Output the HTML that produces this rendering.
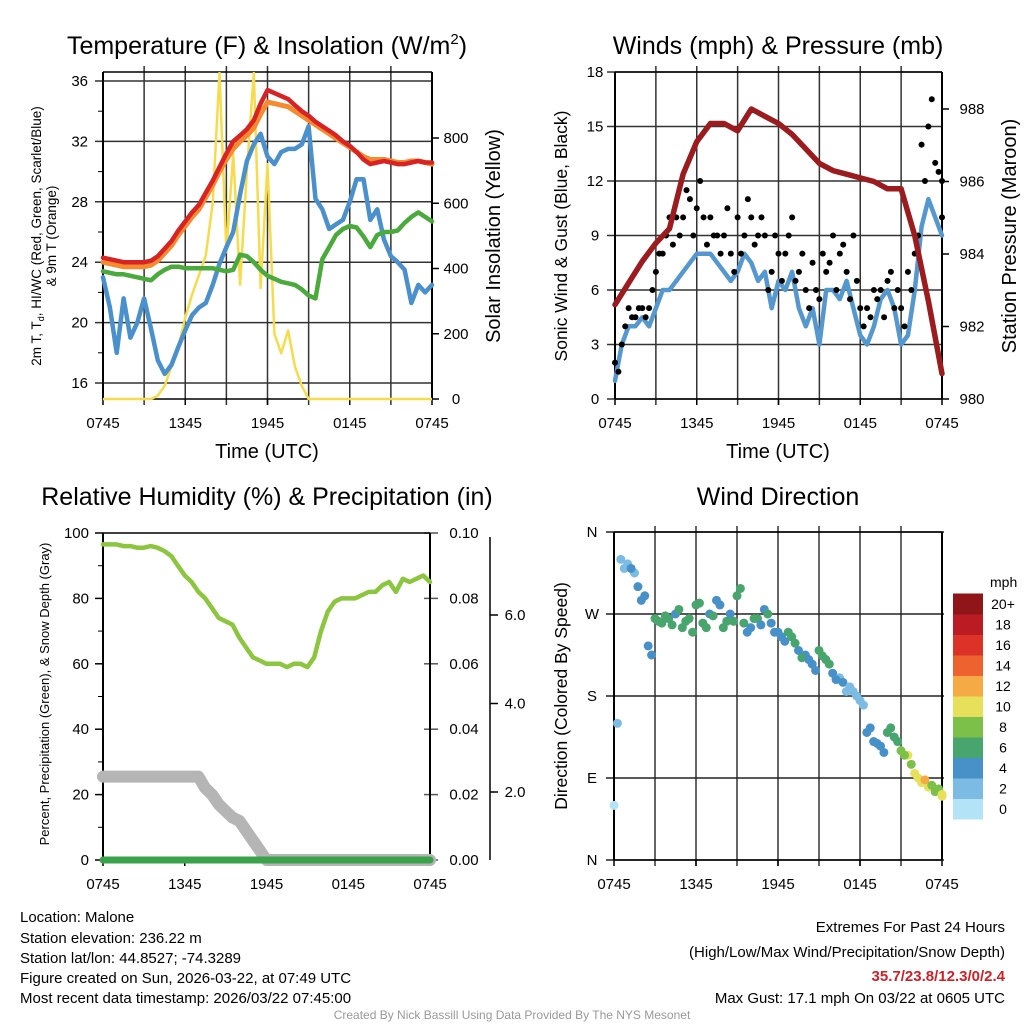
<!DOCTYPE html>
<html><head><meta charset="utf-8"><style>
html,body{margin:0;padding:0;background:#fff}
svg{display:block;font-family:"Liberation Sans",Arial,sans-serif}
</style></head><body>
<svg id="s" width="1024" height="1024" viewBox="0 0 1024 1024" xmlns="http://www.w3.org/2000/svg">
<text x="267" y="54" font-size="25" text-anchor="middle">Temperature (F) &amp; Insolation (W/m<tspan font-size="15" dy="-10">2</tspan><tspan dy="10">)</tspan></text>
<text x="778" y="54" font-size="25" text-anchor="middle">Winds (mph) &amp; Pressure (mb)</text>
<text x="267" y="505" font-size="25" text-anchor="middle">Relative Humidity (%) &amp; Precipitation (in)</text>
<text x="778" y="505" font-size="25" text-anchor="middle">Wind Direction</text>
<text x="267" y="458" font-size="20" text-anchor="middle">Time (UTC)</text>
<text x="778" y="458" font-size="20" text-anchor="middle">Time (UTC)</text>
<text transform="translate(41,236) rotate(-90)" font-size="13.5" text-anchor="middle"><tspan x="0" dy="0">2m T, T<tspan font-size="9" dy="3">d</tspan><tspan dy="-3">, HI/WC (Red, Green, Scarlet/Blue)</tspan></tspan><tspan x="0" dy="15">&amp; 9m T (Orange)</tspan></text>
<text transform="translate(500,236) rotate(-90)" font-size="20" text-anchor="middle">Solar Insolation (Yellow)</text>
<text transform="translate(567,236) rotate(-90)" font-size="17.5" text-anchor="middle">Sonic Wind &amp; Gust (Blue, Black)</text>
<text transform="translate(1016,236) rotate(-90)" font-size="20" text-anchor="middle">Station Pressure (Maroon)</text>
<text transform="translate(49,694) rotate(-90)" font-size="13" text-anchor="middle">Percent, Precipitation (Green), &amp; Snow Depth (Gray)</text>
<text transform="translate(567,696) rotate(-90)" font-size="17.5" text-anchor="middle">Direction (Colored By Speed)</text>
<text x="990" y="587" font-size="14">mph</text>
<g font-size="15">
<text x="20" y="922">Location: Malone</text>
<text x="20" y="943">Station elevation: 236.22 m</text>
<text x="20" y="963">Station lat/lon: 44.8527; -74.3289</text>
<text x="20" y="983">Figure created on Sun, 2026-03-22, at 07:49 UTC</text>
<text x="20" y="1003">Most recent data timestamp: 2026/03/22 07:45:00</text>
</g>
<g font-size="15" text-anchor="end">
<text x="1005" y="932">Extremes For Past 24 Hours</text>
<text x="1005" y="957">(High/Low/Max Wind/Precipitation/Snow Depth)</text>
<text x="1005" y="981" fill="#d21f26" font-weight="bold">35.7/23.8/12.3/0/2.4</text>
<text x="1005" y="1003">Max Gust: 17.1 mph On 03/22 at 0605 UTC</text>
</g>
<text x="512" y="1019" font-size="12" fill="#999" text-anchor="middle">Created By Nick Bassill Using Data Provided By The NYS Mesonet</text>
</svg>
<script>
// ---- data (half-hourly samples from 0745 UTC, 49 points) ----
const timeLabels=["0745","1345","1945","0145","0745"];
const tempTicks=[16,20,24,28,32,36];
const solarTicks=[0,200,400,600,800];
const windTicks=[0,3,6,9,12,15,18];
const presTicks=[980,982,984,986,988];
const rhTicks=[0,20,40,60,80,100];
const precipTicks=["0.00","0.02","0.04","0.06","0.08","0.10"];
const snowTicks=["2.0","4.0","6.0"];
const dirLabels=["N","E","S","W","N"];
const speedBins=["0","2","4","6","8","10","12","14","16","18","20+"];
const temp2m=[24.3,24.2,24.1,24,24,24,24,24.1,24.4,24.9,25.4,26.1,26.7,27.3,27.8,28.6,29.4,30.3,31.2,32,32.4,32.8,33.4,34.5,35.4,35.2,35,34.8,34.4,34,33.7,33.3,33,32.7,32.4,32,31.7,31.3,30.8,30.5,30.6,30.7,30.6,30.5,30.5,30.6,30.7,30.6,30.6];
const temp9m=[24,23.9,23.8,23.7,23.7,23.7,23.7,23.8,24.1,24.6,25.1,25.8,26.4,27,27.5,28.3,29.1,30,30.8,31.5,32,32.4,32.9,33.8,34.6,34.5,34.4,34.3,34,33.7,33.4,33.1,32.8,32.5,32.2,31.9,31.6,31.3,31,30.8,30.8,30.8,30.7,30.6,30.6,30.7,30.7,30.6,30.5];
const dewpt=[23.4,23.3,23.2,23.2,23.1,23,22.9,22.8,23.2,23.5,23.7,23.7,23.6,23.6,23.6,23.6,23.6,23.5,23.4,23.5,24.5,24.4,24,23.5,23.1,22.9,22.7,22.6,22.5,22.2,21.8,21.6,24.2,25,25.8,26.2,26.4,26.3,25.7,25,25.8,26,26,26.1,26.6,27,27.3,27,26.7];
const windChill=[23,21,18,21.6,19,20,21.6,19.6,17.5,16.6,17.2,18.4,19.5,20.5,21,21.3,22.5,23.9,25,26,28.5,30.7,31.8,32.5,31,30.5,31.3,31.5,31.5,31.8,33,28.2,27.5,26.2,26.5,26.8,28,29.5,29.5,26.8,27.5,25.5,24.4,24,23.5,21.3,22.5,22,22.5];
const solar=[0,0,0,0,0,0,0,0,10,40,100,160,250,320,380,440,600,1000,450,750,350,700,1000,340,720,200,140,210,100,40,0,0,0,0,0,0,0,0,0,0,0,0,0,0,0,0,0,0,0];
const sonic=[1,3,4,4,4.5,4,5,6,6,6.5,7,7.5,8,8,8,7.5,7,6.5,7,8,7.5,6.5,7,5,6.5,6,7,5,4,5,3,6,6,5.5,6.5,5,3.5,3,4,5.5,6,5,3,3.5,6,9.5,11,10,9];
const gust=[2,3,5,4.5,5,5,7,8,10,10,10,11,10.5,10,10,9,9,8,10,9,10,9,9,7,8,8,10,7,6,7.5,5.5,7,9,8,7,9,5,5,6,6,6.5,5,5,7,8,14,15,13,12];
const gust2=[1.5,4,4.5,5,4.5,6,8,9,8.5,9,11.5,9,12,8.5,9,8,10.5,7,8,11,8.5,10,6,9,6.5,9,6.5,8,5,6,8,7.5,6,8.5,5.5,6.5,4,4.5,5.5,4.5,7,6,4,6,9,12,16.5,12.5,10];
const pressure=[982.6,983.2,983.8,984.3,984.7,986.2,987.1,987.6,987.6,987.4,988,987.8,987.6,987.3,986.9,986.5,986.3,986.2,986.1,986,985.8,985.8,984.5,982.7,980.7];
const rh=[96.5,96.5,96.5,96,96,95.5,95.5,96,95.5,94.5,93,90,87,85,82,80,77,74,73,72,68,65,62,61,60,60,60,59,60,60,59,62,70,76,79,80,80,80,81,82,82,84,85,82,86,85,86,87,85];
const precip=[0,0,0,0,0,0,0,0,0,0,0,0,0,0,0,0,0,0,0,0,0,0,0,0,0,0,0,0,0,0,0,0,0,0,0,0,0,0,0,0,0,0,0,0,0,0,0,0,0];
const snowPct=[25.5,25.5,25.5,25.5,25.5,25.5,25.5,25.5,25.5,25.5,25.5,25.5,25.5,25.5,25.5,22,20,17,15,13,12,9,6,3,0,0,0,0,0,0,0,0,0,0,0,0,0,0,0,0,0,0,0,0,0,0,0,0,0];
const dirDeg=[60,330,325,315,285,235,265,260,265,270,255,265,280,260,270,285,255,270,290,260,255,265,275,260,250,240,245,230,225,215,230,220,205,200,185,185,175,140,130,125,140,135,120,115,95,85,80,75,70];
const dirSpd=[1,2,3,3,4,4,6,6,6,5,6,6,7,6,5,4,6,5,6,6,5,6,5,4,4,5,6,5,4,4,6,6,4,3,3,3,3,4,4,5,6,7,9,10,10,11,10,9,10];
const dirDeg2=[150,320,320,300,290,225,262,268,258,275,262,250,282,255,268,280,262,262,298,250,265,258,270,250,245,250,238,222,220,208,224,215,198,195,190,180,170,145,128,118,145,130,115,105,90,88,82,78,72];
const dirSpd2=[2,2,4,4,4,4,6,7,6,6,7,6,7,6,6,4,6,6,6,4,6,4,6,4,5,6,6,6,4,4,6,6,4,4,3,2,3,4,4,4,6,7,8,8,10,13,9,9,10];
const binColors=["#b3e3f7","#7cbbe4","#4890c8","#48a56e","#7cc04a","#e6e05a","#f5aa45","#ee6230","#dc3228","#bb1c24","#8f1518"];

const S=document.getElementById('s');const NS='http://www.w3.org/2000/svg';
function mk(tag,parent){const e=document.createElementNS(NS,tag);(parent||S).appendChild(e);return e;}
function setA(e,o){for(const k in o)e.setAttribute(k,o[k]);}
function sc(d0,d1,p0,p1){return v=>p0+(v-d0)*(p1-p0)/(d1-d0);}

function line(x1,y1,x2,y2,c,w,name){const e=mk('line');setA(e,{x1,y1,x2,y2,stroke:c,'stroke-width':w});

return e;}
function txt(x,y,s,anchor,size,name){const e=mk('text');setA(e,{x,y,'text-anchor':anchor,'font-size':size});e.textContent=s;

return e;}
function poly(vals,xs,ys,step,c,w,name){const pts=vals.map((v,i)=>xs(i*step).toFixed(1)+','+ys(v).toFixed(1)).join(' ');
const e=mk('polyline');setA(e,{points:pts,fill:'none',stroke:c,'stroke-width':w,'stroke-linejoin':'round','stroke-linecap':'round'});

return e;}

function frame(x0,x1,y0,y1,vgrid,name){
  const xs=sc(0,24,x0,x1);
  if(vgrid){for(let h=3;h<24;h+=3){line(xs(h),y0-6,xs(h),y1+6,'#333',1.5,name+'-vgrid');}}
  for(let i=0;i<5;i++){line(xs(i*6),y1,xs(i*6),y1+6,'#000',1.5,name+'-xtick');
    txt(xs(i*6),y1+29,timeLabels[i],'middle',15,name+'-xlabel');}
  return xs;
}
function box(x0,x1,y0,y1,name){line(x0,y0,x0,y1,'#000',2,name+'-left-axis');line(x1,y0,x1,y1,'#000',2,name+'-right-axis');
  line(x0,y0,x1,y0,'#000',1.5,name+'-top');line(x0,y1,x1,y1,'#000',1.5,name+'-bottom');}

// ---- Panel 1: temperature ----
{const x0=103,x1=432,y0=72,y1=399;
 const xs=frame(x0,x1,y0,y1,true,'temp');
 const yt=sc(16,36,383,81), ys=sc(0,800,399,138);
 tempTicks.forEach(v=>{line(x0-8,yt(v),x1,yt(v),'#333',1.5,'temp-grid');txt(x0-15,yt(v)+5,String(v),'end',15,'temp-ytick-label');});
 for(let v=18;v<36;v+=4)line(x0-5,yt(v),x0,yt(v),'#000',1,'temp-minor-tick');
 solarTicks.forEach(v=>{line(x1,ys(v),x1+7,ys(v),'#000',1.5,'solar-tick');txt(x1+24,ys(v)+5,String(v),'middle',15,'solar-ytick-label');});
 box(x0,x1,y0,y1,'temp');
 const clip=mk('clipPath');clip.setAttribute('id','c1');const cr=mk('rect',clip);setA(cr,{x:x0,y:y0,width:x1-x0,height:y1-y0+3});
 
 
 poly(solar,xs,ys,0.5,'#f6dc4c',2.5,'solar-line').setAttribute('clip-path','url(#c1)');
 poly(windChill,xs,yt,0.5,'#4a90cc',4.5,'windchill-line');
 poly(dewpt,xs,yt,0.5,'#4aab3c',4.5,'dewpoint-line');
 poly(temp9m,xs,yt,0.5,'#f58a2e',5,'temp-9m-line');
 poly(temp2m,xs,yt,0.5,'#d82325',4.5,'temp-2m-line');}

// ---- Panel 2: winds ----
{const x0=615,x1=942,y0=72,y1=399;
 const xs=frame(x0,x1,y0,y1,true,'wind');
 const yw=sc(0,18,399,72), yp=sc(980,988,399,109);
 windTicks.forEach(v=>{line(x0-8,yw(v),x1,yw(v),'#333',1.5,'wind-grid');txt(x0-20,yw(v)+5,String(v),'middle',15,'wind-ytick-label');});
 presTicks.forEach(v=>{line(x1,yp(v),x1+7,yp(v),'#000',1.5,'pressure-tick');txt(x1+30,yp(v)+5,String(v),'middle',15,'pressure-ytick-label');});
 box(x0,x1,y0,y1,'wind');
 poly(sonic,xs,yw,0.5,'#5598d0',4.5,'sonic-wind-line');
 [gust,gust2].forEach((g,k)=>g.forEach((v,i)=>{const c=mk('circle');setA(c,{cx:xs(Math.min(24,i*0.5+k*0.25)),cy:yw(v),r:3,fill:'#000'});
   
   }));
 poly(pressure,xs,yp,1,'#9b1b1e',5.5,'pressure-line');}

// ---- Panel 3: RH ----
{const x0=103,x1=430,y0=533,y1=860;
 const xs=frame(x0,x1,y0,y1,false,'rh');
 const yr=sc(0,100,860,533);
 rhTicks.forEach(v=>{line(x0-8,yr(v),x0,yr(v),'#000',1.5,'rh-tick');txt(x0-14,yr(v)+5,String(v),'end',15,'rh-ytick-label');});
 for(let v=10;v<100;v+=20)line(x0-5,yr(v),x0,yr(v),'#000',1,'rh-minor-tick');
 precipTicks.forEach((s,i)=>{line(x1-6,yr(i*20),x1+8,yr(i*20),'#555',1.5,'precip-tick');txt(x1+34,yr(i*20)+5,s,'middle',15,'precip-ytick-label');});
 line(490,537,490,860,'#000',1.5,'snow-axis');
 snowTicks.forEach((s,i)=>{const y=792-i*88.5;line(490,y,498,y,'#000',1.5,'snow-tick');txt(515,y+5,s,'middle',15,'snow-ytick-label');});
 box(x0,x1,y0,y1,'rh');
 poly(snowPct,xs,yr,0.5,'#b5b5b5',12,'snow-depth-line');
 poly(precip,xs,yr,0.5,'#3aa24a',7,'precip-line');
 poly(rh,xs,yr,0.5,'#8cc63f',4.5,'rh-line');}

// ---- Panel 4: wind direction ----
{const x0=614,x1=942,y0=532,y1=860;
 const xs=frame(x0,x1,y0,y1,true,'dir');
 const yd=sc(0,360,860,532);
 dirLabels.forEach((s,i)=>{line(x0-8,yd(i*90),x1+2,yd(i*90),'#222',1.5,'dir-grid');txt(x0-22,yd(i*90)+5,s,'middle',15,'dir-ytick-label');});
 box(x0,x1,y0,y1,'dir');
 const col=s=>binColors[Math.min(10,Math.floor(s/2))];
 [[dirDeg,dirSpd,0],[dirDeg2,dirSpd2,0.25]].forEach(([D,P,off])=>D.forEach((d,i)=>{const c=mk('circle');
   setA(c,{cx:xs(Math.min(24,i*0.5+off)),cy:yd(d),r:4.5,fill:col(P[i])});
   
   }));
 const bh=20.5;
 speedBins.forEach((s,i)=>{const y=819-(i+1)*bh;const r=mk('rect');setA(r,{x:953,y:y,width:30,height:bh+0.5,fill:binColors[i]});
   
   
   txt(1003,y+bh/2+5,s,'middle',14,'colorbar-label');});}
</script>
</body></html>
